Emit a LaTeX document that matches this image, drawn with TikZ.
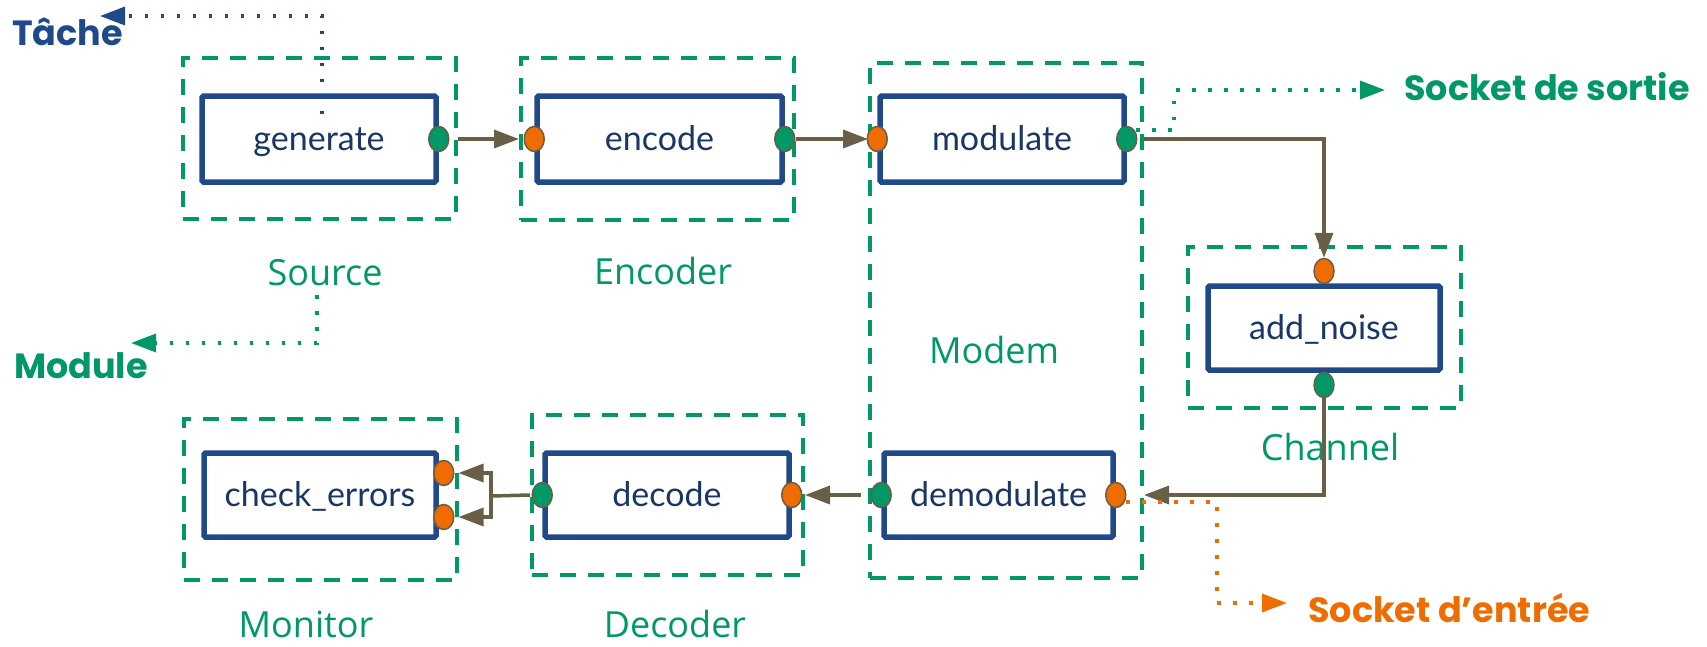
\documentclass[tikz,border=0pt]{standalone}
\usepackage{fontspec}
\newfontfamily\boxfont{Lato}
\newfontfamily\labfont{Open Sans}
\newfontfamily\tagfont{Poppins}
\usetikzlibrary{arrows.meta,shapes.geometric,calc}
\definecolor{modgreen}{RGB}{0,152,102}
\definecolor{taskblue}{RGB}{31,73,137}
\definecolor{txtblue}{RGB}{24,55,100}
\definecolor{portorange}{RGB}{238,108,0}
\definecolor{linkbrown}{RGB}{105,94,70}

\begin{document}
\begin{tikzpicture}[x=1pt,y=-1pt,
  module/.style 2 args={draw=modgreen,line width=4pt,dash pattern=on 16pt off 12pt,
    minimum width=#1,minimum height=#2,inner sep=0pt},
  task/.style 2 args={draw=taskblue,line width=5.5pt,rounded corners=1.5pt,fill=white,
    minimum width=#1,minimum height=#2,inner sep=0pt,text height=22pt,text depth=0pt,
    font=\boxfont\fontsize{34}{40}\selectfont,text=txtblue},
  portbase/.style={ellipse,draw=linkbrown,line width=1.5pt,minimum width=20pt,
    minimum height=25pt,inner sep=0pt},
  inport/.style={portbase,fill=portorange},
  outport/.style={portbase,fill=modgreen},
  modname/.style={font=\labfont\fontsize{36}{43}\selectfont,text=modgreen,anchor=base,inner sep=0pt},
  link/.style={draw=linkbrown,line width=3.5pt,-{Triangle[length=25pt,width=18pt]}},
  wire/.style={draw=linkbrown,line width=3.5pt},
  hint/.style={line width=3.5pt,dash pattern=on 3.5pt off 12.5pt,-{Triangle[length=25pt,width=18pt]}},
  tag/.style={font=\tagfont\bfseries\fontsize{35}{42}\selectfont,anchor=base west,inner sep=0pt},
]
\useasboundingbox (0,0) rectangle (1707,646);

% modules (dashed frames)
\node[module={273pt}{161pt}] (srcM)   at (319.5,138.5) {};
\node[module={273pt}{162pt}] (encM)   at (657.5,139) {};
\node[module={272pt}{515pt}] (modemM) at (1006,320.5) {};
\node[module={273pt}{161pt}] (chanM)  at (1324.5,327.5) {};
\node[module={271pt}{160pt}] (decM)   at (667.5,495) {};
\node[module={273pt}{161pt}] (monM)   at (320,499.5) {};

% module names
\node[modname] (srcName)   at (325,285) {Source};
\node[modname] (encName)   at (663,284) {Encoder};
\node[modname] (modemName) at (994,363) {Modem};
\node[modname] (chanName)  at (1330,460) {Channel};
\node[modname] (monName)   at (306,637) {Monitor};
\node[modname] (decName)   at (675,637) {Decoder};

% tasks
\node[task={234pt}{86pt}] (gen)   at (319,139)   {generate};
\node[task={245pt}{86pt}] (enc)   at (659.5,139) {encode};
\node[task={244pt}{86pt}] (mod)   at (1002,139)  {modulate};
\node[task={232pt}{84pt}] (noise) at (1324,328)  {add\_noise};
\node[task={229pt}{84pt}] (demod) at (998.5,495) {demodulate};
\node[task={244pt}{84pt}] (dec)   at (667,495)   {decode};
\node[task={232pt}{84pt}] (chk)   at (320,495)   {check\_errors};

% sockets
\node[outport] (genOut)   at (gen.east) {};
\node[inport]  (encIn)    at (enc.west) {};
\node[outport] (encOut)   at (enc.east) {};
\node[inport]  (modIn)    at (mod.west) {};
\node[outport] (modOut)   at (mod.east) {};
\node[inport,anchor=south]  (noiseIn)  at ([yshift=-1pt]noise.north) {};
\node[outport,anchor=north] (noiseOut) at ([yshift=1pt]noise.south) {};
\node[outport] (demodOut) at (demod.west) {};
\node[inport]  (demodIn)  at (demod.east) {};
\node[outport] (decOut)   at (dec.west) {};
\node[inport]  (decIn)    at (dec.east) {};
\node[inport]  (chkIn1)   at ([xshift=5pt,yshift=22pt]chk.east) {};
\node[inport]  (chkIn2)   at ([xshift=5pt,yshift=-22pt]chk.east) {};

% data links
\draw[link] (srcM.east |- genOut) -- (encM.west |- genOut);
\draw[link] (encM.east |- encOut) -- (modemM.west |- encOut);
\draw[link] (modemM.east |- modOut) -| (noiseIn.north);
\draw[link] (noiseOut.south) |- (modemM.east |- demodIn);
\draw[link] ([xshift=-7pt]modemM.west |- demodOut) -- (decM.east |- demodOut);
\coordinate (fork) at (491,496);
\draw[wire] (decM.west |- decOut) -- (fork);
\draw[link] (fork) |- (monM.east |- chkIn1);
\draw[link] (fork) |- (monM.east |- chkIn2);

% legend callouts
\coordinate (taskFrom) at (322,114);
\coordinate (taskTip)  at (100,16);
\draw[hint,taskblue] (taskFrom) |- (taskTip);
\node[tag,text=taskblue] (taskTag) at (12,45) {Tâche};

\coordinate (moduleFrom) at (317,295);
\coordinate (moduleTip)  at (131,343);
\draw[hint,modgreen] (moduleFrom) |- (moduleTip);
\node[tag,text=modgreen] (moduleTag) at (14,378) {Module};

\coordinate (outFrom) at (1120,130);
\coordinate (outBend) at (1174,130);
\coordinate (outTip)  at (1385,90);
\draw[hint,modgreen] (outFrom) -- (outBend) |- (outTip);
\node[tag,text=modgreen] (outTag) at (1404,100) {Socket de sortie};

\coordinate (inFrom) at (1126,502);
\coordinate (inBend) at (1217,502);
\coordinate (inTip)  at (1287,603);
\draw[hint,portorange] (inFrom) -- (inBend) |- (inTip);
\node[tag,text=portorange] (inTag) at (1308,622) {Socket d’entrée};
\end{tikzpicture}
\end{document}
